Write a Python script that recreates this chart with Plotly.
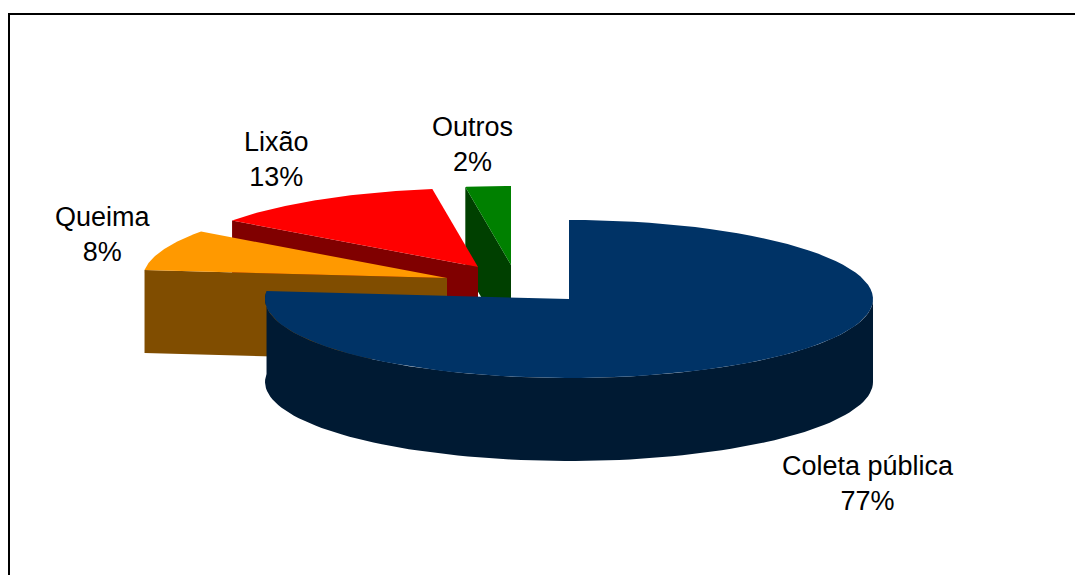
import math
import plotly.graph_objects as go

categories = ["Coleta pública", "Outros", "Lixão", "Queima"]
# Shares, ordered so that they run clockwise from 12 o'clock
shares = [76.6, 2.4, 12.6, 8.4]
slice_order = ["Coleta pública", "Queima", "Lixão", "Outros"]

top_colors = {"Coleta pública": "#003366", "Queima": "#FF9900", "Lixão": "#FF0000", "Outros": "#008000"}
side_colors = {"Coleta pública": "#001A33", "Queima": "#804D00", "Lixão": "#800000", "Outros": "#004000"}
apex = {"Coleta pública": (569, 299), "Queima": (447, 278), "Lixão": (478, 267), "Outros": (511, 265)}
label_pos = {"Coleta pública": (868, 483), "Queima": (103, 234), "Lixão": (276, 159), "Outros": (472, 144)}

RX, RY, DEPTH = 304, 79, 83
share_of = dict(zip(categories, shares))
total = sum(shares)


def rim(cx, cy, a0, a1, dy=0.0, steps=90):
    pts = []
    for i in range(steps + 1):
        a = math.radians(a0 + (a1 - a0) * i / steps)
        pts.append((cx + RX * math.sin(a), cy - RY * math.cos(a) + dy))
    return pts


spans = {}
start = 0.0
for name in slice_order:
    sweep = share_of[name] / total * 360
    spans[name] = (start, start + sweep)
    start += sweep

fig = go.Figure()


def add_poly(pts, color):
    xs = [p[0] for p in pts] + [pts[0][0]]
    ys = [p[1] for p in pts] + [pts[0][1]]
    fig.add_trace(go.Scatter(x=xs, y=ys, mode="lines", fill="toself", fillcolor=color,
                             line=dict(width=0, color=color), hoverinfo="skip", showlegend=False))


# Painted back to front
for name in ["Outros", "Lixão", "Queima", "Coleta pública"]:
    cx, cy = apex[name]
    a0, a1 = spans[name]
    if name == "Coleta pública":
        lo, hi = 90.0, a1
        add_poly(rim(cx, cy, lo, hi) + rim(cx, cy, lo, hi, DEPTH)[::-1], side_colors[name])
    else:
        edge = rim(cx, cy, a0, a0, steps=1)[0]
        add_poly([edge, (cx, cy), (cx, cy + DEPTH), (edge[0], edge[1] + DEPTH)], side_colors[name])
    add_poly([(cx, cy)] + rim(cx, cy, a0, a1), top_colors[name])

for name in categories:
    x, y = label_pos[name]
    fig.add_annotation(x=x, y=y, xref="x", yref="y", showarrow=False, align="center",
                       text=f"{name}<br>{round(share_of[name] / total * 100)}%",
                       font=dict(family="Liberation Sans", size=27, color="#000000"))

fig.add_shape(type="line", x0=8, x1=1075, y0=14, y1=14, xref="x", yref="y", line=dict(color="#000000", width=2))
fig.add_shape(type="line", x0=9, x1=9, y0=14, y1=575, xref="x", yref="y", line=dict(color="#000000", width=2))

fig.update_xaxes(range=[0, 1075], visible=False)
fig.update_yaxes(range=[575, 0], visible=False)
fig.update_layout(width=1075, height=575, autosize=False, margin=dict(l=0, r=0, t=0, b=0),
                  paper_bgcolor="#FFFFFF", plot_bgcolor="#FFFFFF", showlegend=False)
fig.write_html("out.html", config={"displayModeBar": False},
               post_script="document.body.style.margin='0';document.body.style.overflow='hidden';")
